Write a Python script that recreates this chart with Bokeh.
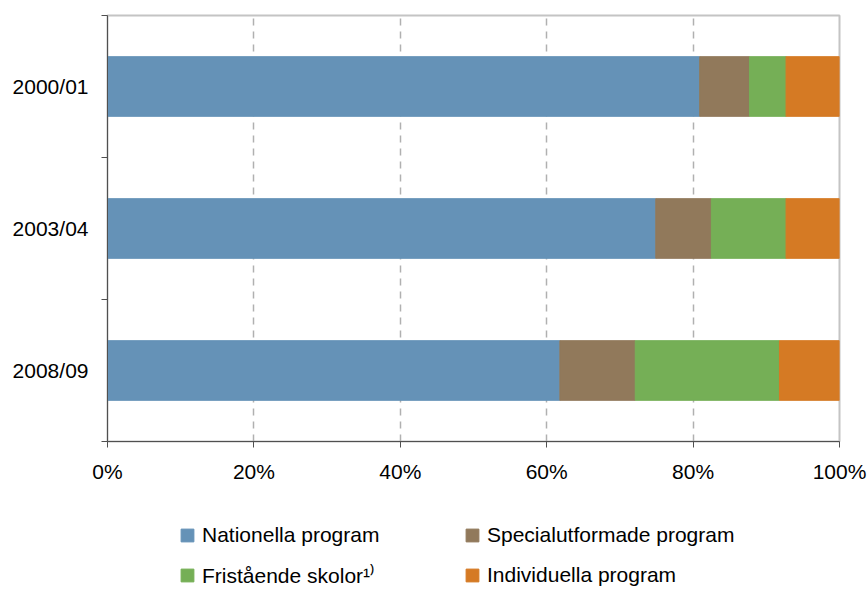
from bokeh.plotting import figure
from bokeh.layouts import column
from bokeh.models import FixedTicker, PrintfTickFormatter, Range1d, ColumnDataSource
from bokeh.embed import file_html
from bokeh.resources import INLINE

# ---- data (percent shares) ----
years = ["2000/01", "2003/04", "2008/09"]
nationella = [80.9, 74.9, 61.8]
specialutformade = [6.8, 7.6, 10.3]
fristaende = [5.0, 10.2, 19.7]
individuella = [7.3, 7.3, 8.2]

series_names = ["Nationella program", "Specialutformade program",
                "Fristående skolor¹⁾", "Individuella program"]
series_values = [nationella, specialutformade, fristaende, individuella]
colors = ["#6592B7", "#91795B", "#75AF56", "#D57A24"]
x_ticks = [0, 20, 40, 60, 80, 100]

FONT = "Liberation Sans"
W = 867
H_PLOT = 494
H_LEG = 95

n = len(years)
# top category first: 2000/01 at top
ypos = [n - i - 0.5 for i in range(n)]

p = figure(width=W, height=H_PLOT, output_backend="svg", toolbar_location=None,
           x_range=Range1d(0, 100), y_range=Range1d(0, n),
           min_border_left=107, min_border_top=15, min_border_right=28,
           min_border_bottom=H_PLOT - 441)

left = [0.0] * n
for name, vals, col in zip(series_names, series_values, colors):
    right = [l + v for l, v in zip(left, vals)]
    src = ColumnDataSource(dict(y=ypos, left=left, right=right))
    p.hbar(y="y", left="left", right="right", height=0.42, source=src,
           fill_color=col, line_color=col, line_width=1)
    left = right

# outline (top / right borders)
p.outline_line_color = "#c4c4c4"
p.outline_line_width = 2

# grid
p.ygrid.grid_line_color = None
p.xgrid.ticker = FixedTicker(ticks=[20, 40, 60, 80])
p.xgrid.grid_line_color = "#b0b0b0"
p.xgrid.grid_line_width = 1.5
p.xgrid.grid_line_dash = "7 6"

# x axis
xa = p.xaxis[0]
xa.ticker = FixedTicker(ticks=x_ticks)
xa.formatter = PrintfTickFormatter(format="%d%%")
xa.axis_line_color = "#505050"
xa.major_tick_line_color = "#505050"
xa.major_tick_out = 6
xa.major_tick_in = 0
xa.minor_tick_line_color = None
xa.major_label_standoff = 12
xa.major_label_text_font = FONT
xa.major_label_text_font_size = "21px"
xa.major_label_text_color = "#000000"

# y axis
ya = p.yaxis[0]
ya.ticker = FixedTicker(ticks=ypos, minor_ticks=[float(i) for i in range(n + 1)])
ya.major_label_overrides = {yv: yr for yv, yr in zip(ypos, years)}
ya.axis_line_color = "#505050"
ya.major_tick_line_color = None
ya.major_tick_out = 0
ya.major_tick_in = 0
ya.minor_tick_line_color = "#505050"
ya.minor_tick_out = 6
ya.minor_tick_in = 0
ya.major_label_standoff = 13
ya.major_label_text_font = FONT
ya.major_label_text_font_size = "21px"
ya.major_label_text_color = "#000000"

p.background_fill_color = "white"
p.border_fill_color = "white"

# ---- legend strip below the chart (swatch-only renderers, nothing plotted) ----
lp = figure(width=W, height=H_LEG, output_backend="svg", toolbar_location=None,
            x_range=Range1d(0, 1), y_range=Range1d(0, 1),
            x_axis_type=None, y_axis_type=None, min_border=0,
            outline_line_color=None)
nan = float("nan")
for name, col in zip(series_names, colors):
    lp.hbar(y=[nan], left=[nan], right=[nan], height=0.5,
            fill_color=col, line_color=col, legend_label=name)

lg = lp.legend[0]
lg.orientation = "horizontal"
lg.ncols = 2
lg.location = (72, 0)
lg.padding = 0
lg.margin = 0
lg.spacing = 14
lg.glyph_width = 16
lg.glyph_height = 16
lg.label_standoff = 7
lg.label_width = 248
lg.label_height = 24
lg.label_text_font = FONT
lg.label_text_font_size = "21px"
lg.label_text_color = "#000000"
lg.border_line_color = None
lg.background_fill_alpha = 0

layout = column(p, lp, spacing=0)
open("out.html", "w").write(file_html(layout, INLINE))
